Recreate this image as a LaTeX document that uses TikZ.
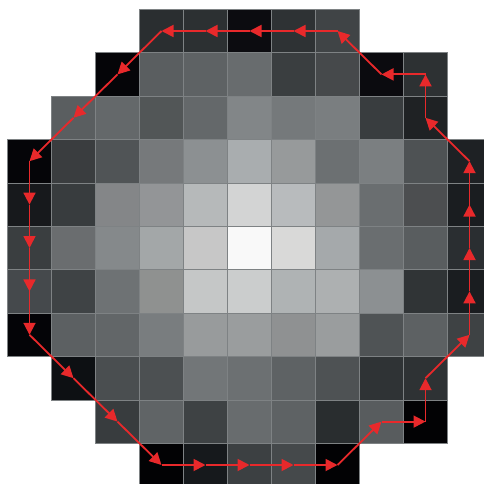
\documentclass[tikz,border=0pt]{standalone}
\usetikzlibrary{arrows.meta}
\definecolor{pathred}{HTML}{E8292B}
\definecolor{gridline}{HTML}{7E8284}
\tikzset{
  cell/.style={draw=gridline, line width=0.7pt, minimum width=44pt, minimum height=43.4pt, inner sep=0pt, outer sep=0pt, anchor=north west},
  trace/.style={draw=pathred, line width=1.8pt, -{Triangle[length=12pt,width=12pt]}}
}
\begin{document}
\begin{tikzpicture}[x=1pt,y=-1pt]
\useasboundingbox (0,0) rectangle (484,484);
\clip (0,0) rectangle (484,484);
\fill[white] (0,0) rectangle (484,484);
\foreach \r/\c/\h in {
0/3/2A2E30,0/4/2C3032,0/5/0C0C10,0/6/2E3234,0/7/404446,
1/2/050508,1/3/5A5E60,1/4/5E6264,1/5/686C6E,1/6/3A3E40,1/7/46494B,1/8/0B0B0F,1/9/2D3133,
2/1/5A5E60,2/2/64686A,2/3/525657,2/4/64686A,2/5/828688,2/6/75797B,2/7/7A7E80,2/8/393D3F,2/9/1F2224,
3/0/050508,3/1/3A3D3F,3/2/505456,3/3/76797B,3/4/8C9092,3/5/A9ADAF,3/6/979A9B,3/7/6C7072,3/8/7B7F81,3/9/4E5254,3/10/1E2124,
4/0/17191C,4/1/383C3E,4/2/848688,4/3/939597,4/4/B6B9BA,4/5/D3D4D4,4/6/B8BBBD,4/7/949697,4/8/6A6E70,4/9/4C4E50,4/10/1A1D20,
5/0/3A3E40,5/1/6A6D6F,5/2/85898B,5/3/A3A7A8,5/4/C7C7C7,5/5/F9F9F9,5/6/D9D9D8,5/7/A5A9AB,5/8/6A6E70,5/9/595D5F,5/10/2A2E31,
6/0/45494C,6/1/3F4345,6/2/6E7274,6/3/8F9190,6/4/C5C7C7,6/5/CBCDCD,6/6/AFB3B4,6/7/ADB0B1,6/8/8C9092,6/9/303436,6/10/1A1D20,
7/0/040407,7/1/5C6062,7/2/626668,7/3/797D7F,7/4/989B9C,7/5/9A9D9E,7/6/8F9192,7/7/9A9D9E,7/8/4F5355,7/9/5D6163,7/10/3E4244,
8/1/0D1013,8/2/4A4E50,8/3/4C5052,8/4/727678,8/5/6C7072,8/6/5E6264,8/7/4E5254,8/8/2F3335,8/9/2E3234,
9/2/383C3E,9/3/606466,9/4/3E4244,9/5/686C6E,9/6/5E6264,9/7/292D2F,9/8/585C5E,9/9/020204,
10/3/020204,10/4/16191C,10/5/3C4042,10/6/45494B,10/7/020204}
{
  \definecolor{cellc}{HTML}{\h}
  \node[cell, fill=cellc] (k\r-\c) at ({7.5+44*\c},{9.3+43.4*\r}) {};
}
\foreach \ra/\ca/\rb/\cb in {
0/7/0/6, 0/6/0/5, 0/5/0/4, 0/4/0/3, 0/3/1/2, 1/2/2/1, 2/1/3/0,
3/0/4/0, 4/0/5/0, 5/0/6/0, 6/0/7/0, 7/0/8/1, 8/1/9/2, 9/2/10/3,
10/3/10/4, 10/4/10/5, 10/5/10/6, 10/6/10/7, 10/7/9/8, 9/8/9/9, 9/9/8/9,
8/9/7/10, 7/10/6/10, 6/10/5/10, 5/10/4/10, 4/10/3/10, 3/10/2/9,
2/9/1/9, 1/9/1/8, 1/8/0/7}
{
  \draw[trace] (k\ra-\ca.center) -- (k\rb-\cb.center);
}
\end{tikzpicture}
\end{document}
